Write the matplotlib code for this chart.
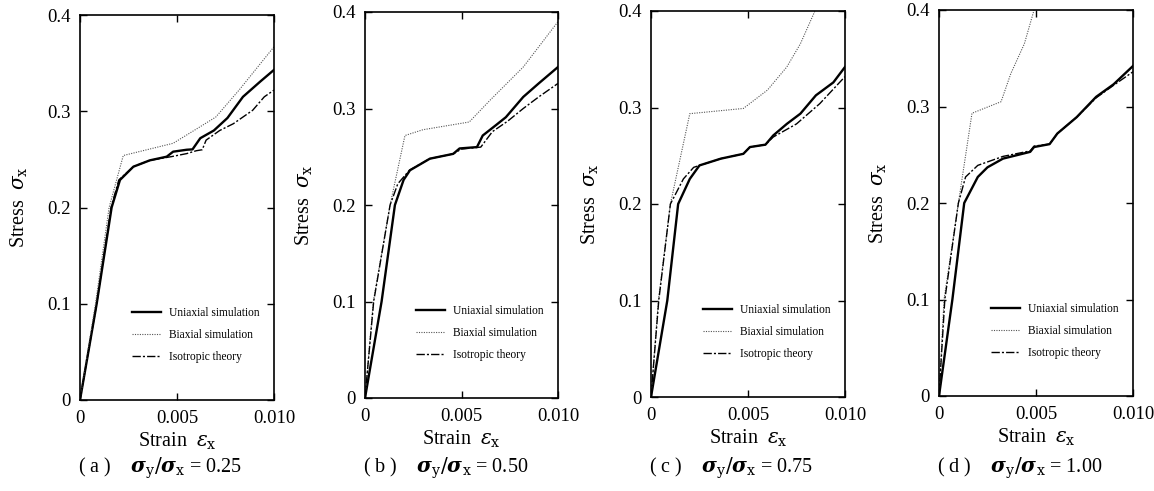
import matplotlib
matplotlib.use("Agg")
import matplotlib.pyplot as plt

# stress-strain curves
captions = ["( a )", "( b )", "( c )", "( d )"]
ratios = ["0.25", "0.50", "0.75", "1.00"]
legend_labels = ["Uniaxial simulation", "Biaxial simulation", "Isotropic theory"]

a_uni_x = [0, 0.00086, 0.00163, 0.00206, 0.00275, 0.0036, 0.00447, 0.0048, 0.0055, 0.0058, 0.0062, 0.0069, 0.0076, 0.0084, 0.0093, 0.0100]
a_uni_y = [0, 0.100, 0.200, 0.2286, 0.2424, 0.249, 0.2528, 0.258, 0.260, 0.2604, 0.272, 0.280, 0.293, 0.315, 0.331, 0.343]
a_bi_x = [0, 0.0008, 0.0015, 0.00223, 0.0048, 0.0062, 0.0070, 0.0082, 0.0090, 0.0100]
a_bi_y = [0, 0.100, 0.200, 0.254, 0.2667, 0.284, 0.294, 0.322, 0.342, 0.367]
a_iso_x = [0, 0.00086, 0.0016, 0.0020, 0.00275, 0.0036, 0.0047, 0.0055, 0.0060, 0.0063, 0.0065, 0.0072, 0.0079, 0.0089, 0.0095, 0.0100]
a_iso_y = [0, 0.100, 0.200, 0.2286, 0.2424, 0.249, 0.2528, 0.256, 0.259, 0.260, 0.270, 0.280, 0.287, 0.301, 0.315, 0.322]

b_uni_x = [0, 0.00086, 0.00155, 0.0020, 0.00233, 0.00336, 0.00457, 0.0049, 0.0058, 0.0061, 0.0068, 0.0073, 0.0082, 0.0090, 0.0100]
b_uni_y = [0, 0.100, 0.200, 0.226, 0.236, 0.248, 0.253, 0.2586, 0.260, 0.272, 0.283, 0.291, 0.312, 0.326, 0.343]
b_bi_x = [0, 0.00043, 0.0013, 0.00207, 0.0030, 0.0054, 0.0065, 0.0082, 0.0100]
b_bi_y = [0, 0.100, 0.200, 0.272, 0.278, 0.286, 0.309, 0.343, 0.390]
b_iso_x = [0, 0.00045, 0.0013, 0.0017, 0.0023, 0.00336, 0.00457, 0.0050, 0.0060, 0.0066, 0.0074, 0.0082, 0.0090, 0.0100]
b_iso_y = [0, 0.100, 0.200, 0.222, 0.236, 0.248, 0.253, 0.258, 0.260, 0.276, 0.287, 0.300, 0.312, 0.326]

c_uni_x = [0, 0.00084, 0.0014, 0.0020, 0.0025, 0.0036, 0.00476, 0.0051, 0.0059, 0.0063, 0.0070, 0.0077, 0.0085, 0.0094, 0.0100]
c_uni_y = [0, 0.100, 0.200, 0.226, 0.240, 0.247, 0.252, 0.259, 0.2615, 0.271, 0.283, 0.2936, 0.3126, 0.326, 0.342]
c_bi_x = [0, 0.00038, 0.0010, 0.0020, 0.00476, 0.0060, 0.0070, 0.0077, 0.00845]
c_bi_y = [0, 0.100, 0.200, 0.2936, 0.299, 0.318, 0.342, 0.366, 0.400]
c_iso_x = [0, 0.0004, 0.0010, 0.00167, 0.0022, 0.0036, 0.00476, 0.0051, 0.0059, 0.0063, 0.0075, 0.0087, 0.0100]
c_iso_y = [0, 0.100, 0.200, 0.226, 0.238, 0.247, 0.252, 0.259, 0.2615, 0.2694, 0.283, 0.304, 0.332]

d_uni_x = [0, 0.00069, 0.0013, 0.0020, 0.0025, 0.0033, 0.0047, 0.0049, 0.0057, 0.0061, 0.0071, 0.0081, 0.0090, 0.0100]
d_uni_y = [0, 0.100, 0.200, 0.227, 0.237, 0.246, 0.253, 0.258, 0.261, 0.272, 0.289, 0.310, 0.323, 0.342]
d_bi_x = [0, 0.00026, 0.0010, 0.0017, 0.0032, 0.0037, 0.0044, 0.0049]
d_bi_y = [0, 0.100, 0.200, 0.293, 0.305, 0.334, 0.365, 0.400]
d_iso_x = [0, 0.0003, 0.0010, 0.00137, 0.0020, 0.0033, 0.0047, 0.0049, 0.0057, 0.0061, 0.0071, 0.0081, 0.0090, 0.0100]
d_iso_y = [0, 0.100, 0.200, 0.227, 0.239, 0.2483, 0.254, 0.259, 0.261, 0.272, 0.289, 0.309, 0.322, 0.336]

panels = [
    (a_uni_x, a_uni_y, a_bi_x, a_bi_y, a_iso_x, a_iso_y),
    (b_uni_x, b_uni_y, b_bi_x, b_bi_y, b_iso_x, b_iso_y),
    (c_uni_x, c_uni_y, c_bi_x, c_bi_y, c_iso_x, c_iso_y),
    (d_uni_x, d_uni_y, d_bi_x, d_bi_y, d_iso_x, d_iso_y),
]

W, H = 1154, 491
# axes boxes in pixels: left, right, top, bottom
boxes = [(80, 274, 15, 400), (365, 558, 12, 398), (651, 845, 11, 397), (939, 1133, 10, 396)]

plt.rcParams["font.family"] = ["Liberation Serif", "DejaVu Serif"]
plt.rcParams["mathtext.fontset"] = "dejavuserif"

fig = plt.figure(figsize=(W / 100, H / 100), dpi=100)

for k, (ux, uy, bx, by, ix, iy) in enumerate(panels):
    l, r, t, b = boxes[k]
    ax = fig.add_axes([l / W, 1 - b / H, (r - l) / W, (b - t) / H])
    ax.plot(ux, uy, color="black", lw=1.7, label=legend_labels[0])
    ax.plot(bx, by, color="#555555", lw=0.8, ls=(0, (1, 1.2)), label=legend_labels[1])
    ax.plot(ix, iy, color="black", lw=1.0, ls=(0, (6, 1.5, 1.5, 1.5)), label=legend_labels[2])

    ax.set_xlim(0, 0.010)
    ax.set_ylim(0, 0.4)
    ax.set_xticks([0, 0.005, 0.010])
    ax.set_xticklabels(["0", "0.005", "0.010"])
    ax.set_yticks([0, 0.1, 0.2, 0.3, 0.4])
    ax.set_yticklabels(["0", "0.1", "0.2", "0.3", "0.4"])
    ax.tick_params(direction="in", top=True, right=True, length=5, width=1.0,
                   labelsize=13.5, pad=7)
    for s in ax.spines.values():
        s.set_linewidth(1.2)

    ax.set_xlabel(r"Strain  $\varepsilon_{\rm x}$", fontsize=14.5, labelpad=3)
    ax.set_ylabel(r"Stress  $\sigma_{\rm x}$", fontsize=14.5, labelpad=12)

    ax.legend(loc="lower right", bbox_to_anchor=(0.98, 0.07), frameon=False,
              handlelength=2.5, handletextpad=0.7, labelspacing=0.85,
              prop={"family": "Liberation Serif", "size": 8.3})

    fig.text(l / W - 0.002, 1 - 468 / H,
             captions[k] + r"    $\boldsymbol{\sigma}_{\rm y}/\boldsymbol{\sigma}_{\rm x}$" + " = " + ratios[k],
             fontsize=14.5, ha="left", va="center")

fig.savefig("out.png", dpi=100)
